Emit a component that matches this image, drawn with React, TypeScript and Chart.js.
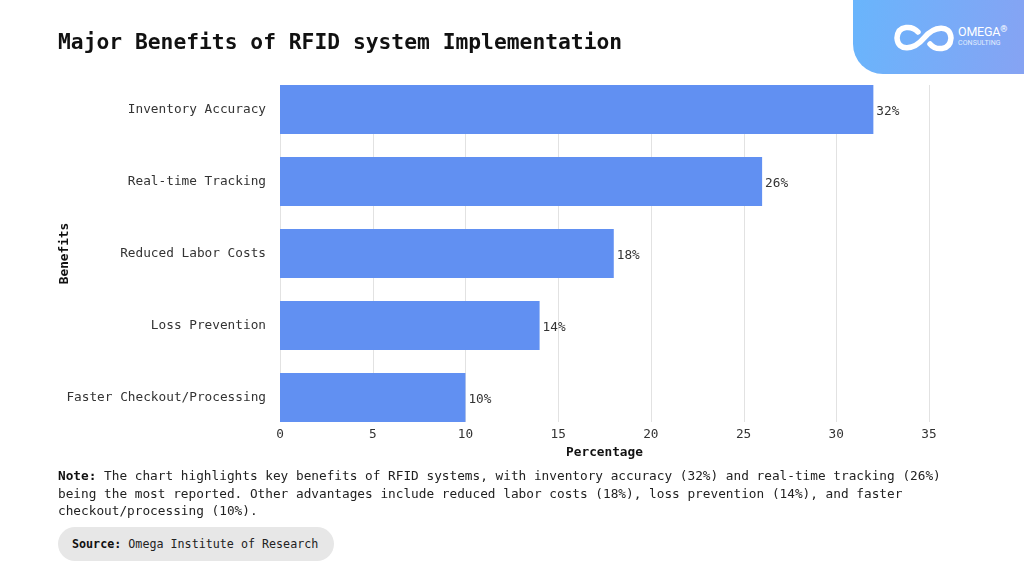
import React, { useEffect, useRef } from "react";
import { Chart, registerables } from "chart.js";

Chart.register(...registerables);

const categories = [
  "Inventory Accuracy",
  "Real-time Tracking",
  "Reduced Labor Costs",
  "Loss Prevention",
  "Faster Checkout/Processing",
];
const percentages = [32, 26, 18, 14, 10];
const xTickValues = [0, 5, 10, 15, 20, 25, 30, 35];

const FONT = "'DejaVu Sans Mono', 'Liberation Mono', monospace";
const BAR_COLOR = "#6190F2";

const gridPlugin = {
  id: "barGrid",
  beforeDatasetsDraw(chart: any) {
    const meta = chart.getDatasetMeta(0);
    if (!meta || !meta.data.length) return;
    const first = meta.data[0];
    const last = meta.data[meta.data.length - 1];
    const top = first.y - first.height / 2;
    const bottom = last.y + last.height / 2;
    const x = chart.scales.x;
    const ctx = chart.ctx;
    ctx.save();
    ctx.strokeStyle = "#e2e2e2";
    ctx.lineWidth = 1;
    xTickValues.forEach((v) => {
      const px = Math.round(x.getPixelForValue(v)) + 0.5;
      ctx.beginPath();
      ctx.moveTo(px, top);
      ctx.lineTo(px, bottom);
      ctx.stroke();
    });
    ctx.restore();
  },
};

const labelPlugin = {
  id: "barLabels",
  afterDatasetsDraw(chart: any) {
    const meta = chart.getDatasetMeta(0);
    const ctx = chart.ctx;
    ctx.save();
    ctx.font = `12.75px ${FONT}`;
    ctx.fillStyle = "#333333";
    ctx.textAlign = "left";
    ctx.textBaseline = "middle";
    meta.data.forEach((bar: any, i: number) => {
      ctx.fillText(`${percentages[i]}%`, bar.x + 3, bar.y + 2);
    });
    ctx.restore();
  },
};

function BarChart() {
  const ref = useRef<HTMLCanvasElement | null>(null);
  useEffect(() => {
    if (!ref.current) return;
    const chart = new Chart(ref.current, {
      type: "bar",
      data: {
        labels: categories,
        datasets: [
          {
            data: percentages,
            backgroundColor: BAR_COLOR,
            borderWidth: 0,
            categoryPercentage: 1,
            barPercentage: 0.68,
            clip: false as any,
          },
        ],
      },
      options: {
        indexAxis: "y",
        animation: false,
        responsive: false,
        maintainAspectRatio: false,
        devicePixelRatio: 1,
        layout: { padding: { top: 109.5, right: 95, left: 0, bottom: 0 } },
        plugins: {
          legend: { display: false },
          tooltip: { enabled: false },
        },
        scales: {
          x: {
            type: "linear",
            min: 0,
            max: 35,
            afterFit(scale: any) {
              scale.height = 72.5;
            },
            afterBuildTicks(scale: any) {
              scale.ticks = xTickValues.map((v) => ({ value: v }));
            },
            grid: { display: false, drawTicks: false },
            border: { display: false },
            ticks: {
              padding: 30,
              color: "#333333",
              font: { family: FONT, size: 12.75 },
            },
            title: {
              display: true,
              text: "Percentage",
              color: "#111111",
              font: { family: FONT, size: 12.75, weight: "bold" },
              padding: { top: 0, bottom: 9.35 },
            },
          },
          y: {
            type: "category",
            offset: false,
            afterFit(scale: any) {
              scale.width = 280;
            },
            grid: { display: false, drawTicks: false },
            border: { display: false },
            ticks: {
              padding: 14,
              color: "#333333",
              font: { family: FONT, size: 12.75 },
            },
            title: {
              display: true,
              text: "Benefits",
              color: "#111111",
              font: { family: FONT, size: 12.75, weight: "bold" },
              padding: { top: 57.35, bottom: 0 },
            },
          },
        },
      },
      plugins: [gridPlugin, labelPlugin],
    } as any);
    return () => chart.destroy();
  }, []);
  return (
    <canvas
      ref={ref}
      width={1024}
      height={470}
      style={{ position: "absolute", left: 0, top: 0, width: 1024, height: 470 }}
    />
  );
}

function Logo() {
  return (
    <div
      style={{
        position: "absolute",
        left: 853,
        top: 0,
        width: 171,
        height: 74,
        borderBottomLeftRadius: 30,
        background: "linear-gradient(100deg, #69b5fc 0%, #7aaaf7 60%, #86a3f3 100%)",
      }}
    >
      <svg
        width={64}
        height={34}
        viewBox="0 0 64 34"
        style={{ position: "absolute", left: 39, top: 21 }}
      >
        <path
          d="M 26 11 C 21 5, 6 3, 5 17 C 6 31, 22 29, 32 17 C 42 5, 58 3, 59 17 C 58 31, 43 29, 38 23"
          fill="none"
          stroke="#ffffff"
          strokeWidth={5.5}
          strokeLinecap="round"
        />
      </svg>
      <div
        style={{
          position: "absolute",
          left: 105,
          top: 25,
          color: "#ffffff",
          fontFamily: "Roboto, 'Noto Sans', sans-serif",
          fontSize: 12.5,
          lineHeight: "14px",
          letterSpacing: -0.2,
        }}
      >
        OMEGA<sup style={{ fontSize: 9, verticalAlign: "top", position: "relative", top: -3 }}>®</sup>
      </div>
      <div
        style={{
          position: "absolute",
          left: 105,
          top: 39,
          color: "rgba(255,255,255,0.8)",
          fontFamily: "Roboto, 'Noto Sans', sans-serif",
          fontSize: 7,
          lineHeight: "8px",
          letterSpacing: 0.1,
        }}
      >
        CONSULTING
      </div>
    </div>
  );
}

export default function App() {
  return (
    <div
      style={{
        position: "absolute",
        left: 0,
        top: 0,
        width: 1024,
        height: 576,
        background: "#ffffff",
        overflow: "hidden",
        fontFamily: FONT,
      }}
    >
      <BarChart />
      <div
        style={{
          position: "absolute",
          left: 58,
          top: 28,
          fontSize: 21.3,
          fontWeight: "bold",
          color: "#111111",
          lineHeight: "28px",
          whiteSpace: "nowrap",
        }}
      >
        Major Benefits of RFID system Implementation
      </div>
      <Logo />
      <div
        style={{
          position: "absolute",
          left: 58,
          top: 467,
          fontSize: 12.75,
          lineHeight: "17.5px",
          color: "#222222",
          whiteSpace: "nowrap",
        }}
      >
        <b style={{ color: "#111111" }}>Note:</b> The chart highlights key benefits of RFID systems, with inventory accuracy (32%) and real-time tracking (26%)
        <br />
        being the most reported. Other advantages include reduced labor costs (18%), loss prevention (14%), and faster
        <br />
        checkout/processing (10%).
      </div>
      <div
        style={{
          position: "absolute",
          left: 58,
          top: 527,
          width: 276,
          height: 34,
          borderRadius: 17,
          background: "#e7e7e7",
        }}
      >
        <div
          style={{
            position: "absolute",
            left: 14,
            top: 0,
            lineHeight: "34px",
            fontSize: 11.7,
            color: "#222222",
            whiteSpace: "nowrap",
          }}
        >
          <b style={{ color: "#111111" }}>Source:</b> Omega Institute of Research
        </div>
      </div>
    </div>
  );
}
